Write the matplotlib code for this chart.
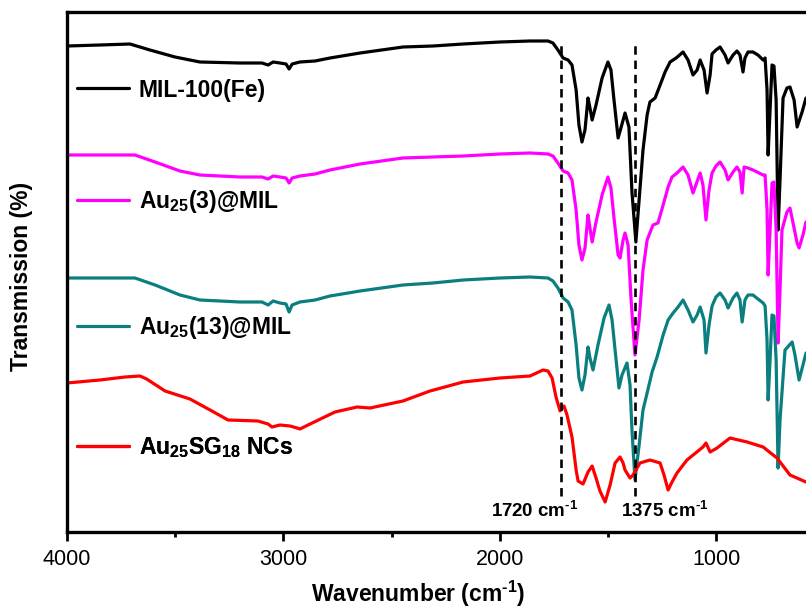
import matplotlib
matplotlib.use("Agg")
import matplotlib.pyplot as plt
from matplotlib.ticker import FixedLocator

plt.rcParams['font.family'] = ['Liberation Sans', 'DejaVu Sans']
plt.rcParams['mathtext.fontset'] = 'custom'
plt.rcParams['mathtext.bf'] = 'Liberation Sans:bold'
plt.rcParams['mathtext.rm'] = 'Liberation Sans:bold'
plt.rcParams['mathtext.default'] = 'bf'

# ---------------- data (wavenumber cm-1, transmission arb. units incl. offset) ----
mil_wn = [4000, 3848, 3709, 3617, 3501, 3386, 3201, 3099, 3071, 3048, 3016, 2988, 2974, 2960,
          2924, 2854, 2785, 2646, 2448, 2309, 2170, 2000, 1861, 1778, 1755, 1732, 1708, 1685,
          1667, 1648, 1635, 1621, 1607, 1593, 1584, 1574, 1556, 1528, 1501, 1487, 1473, 1454,
          1441, 1422, 1404, 1390, 1372, 1357, 1339, 1320, 1307, 1283, 1260, 1237, 1214, 1186,
          1154, 1131, 1108, 1089, 1075, 1057, 1043, 1029, 1020, 1002, 983, 960, 946, 923, 905,
          891, 877, 868, 854, 831, 808, 784, 775, 766, 761, 752, 743, 734, 724, 715, 706, 692,
          674, 660, 641, 627, 604, 586]
mil_t = [486, 487, 488, 482, 475, 470, 469, 469, 467, 470, 469, 468, 463, 468,
         470, 471, 474, 479, 485, 486, 488, 490, 491, 491, 489, 482, 474, 472,
         467, 442, 407, 390, 402, 434, 424, 412, 427, 454, 470, 462, 432, 394,
         404, 419, 405, 340, 290, 332, 382, 417, 430, 434, 447, 460, 470, 474,
         480, 472, 457, 462, 472, 462, 439, 457, 478, 482, 485, 477, 469, 477, 481,
         477, 460, 474, 480, 480, 477, 472, 474, 442, 377, 422, 467, 466, 432, 302, 352, 434,
         444, 445, 432, 405, 420, 434]

au3_wn = [4000, 3848, 3686, 3593, 3478, 3386, 3201, 3099, 3071, 3048, 3016, 2988, 2974, 2960,
          2924, 2854, 2785, 2646, 2448, 2309, 2170, 2000, 1861, 1778, 1755, 1732, 1708, 1685,
          1667, 1648, 1635, 1621, 1607, 1593, 1584, 1574, 1556, 1528, 1501, 1487, 1473, 1454,
          1445, 1431, 1422, 1408, 1394, 1376, 1357, 1339, 1320, 1293, 1270, 1246, 1223, 1205,
          1182, 1154, 1131, 1108, 1075, 1062, 1048, 1034, 1020, 1002, 983, 960, 946, 923,
          905, 891, 881, 872, 854, 831, 784, 775, 766, 761, 752, 743, 734, 724, 715, 706,
          697, 674, 660, 627, 618, 600, 586]
au3_t = [377, 377, 377, 370, 361, 357, 355, 355, 353, 356, 355, 354, 349, 354,
         356, 358, 362, 368, 374, 375, 376, 378, 379, 378, 376, 369, 361, 359,
         352, 322, 287, 272, 284, 317, 304, 290, 310, 337, 355, 344, 314, 277,
         274, 292, 299, 287, 232, 177, 212, 262, 292, 307, 309, 327, 345, 355,
         359, 365, 357, 339, 359, 347, 312, 342, 359, 366, 370, 362, 352, 360,
         365, 360, 339, 365, 364, 362, 357, 357, 322, 257, 302, 349, 350, 302, 189, 242,
         302, 320, 324, 289, 284, 297, 310]

au13_wn = [4000, 3848, 3686, 3593, 3478, 3386, 3201, 3099, 3071, 3048, 3016, 2988, 2974, 2960,
           2924, 2854, 2785, 2646, 2448, 2309, 2170, 2000, 1861, 1778, 1755, 1732, 1708, 1685,
           1667, 1648, 1635, 1621, 1607, 1593, 1584, 1570, 1547, 1519, 1496, 1482, 1468, 1450,
           1436, 1413, 1399, 1390, 1376, 1357, 1339, 1320, 1297, 1274, 1246, 1223, 1200, 1177,
           1154, 1131, 1108, 1089, 1075, 1057, 1048, 1034, 1020, 1002, 983, 960, 946, 923, 905,
           891, 881, 868, 854, 831, 808, 784, 775, 766, 761, 752, 743, 734, 724, 715, 706, 683,
           650, 637, 618, 600, 586]
au13_t = [254, 254, 254, 247, 237, 232, 230, 230, 227, 231, 229, 228, 220, 227,
          230, 232, 236, 241, 247, 249, 252, 254, 255, 254, 251, 244, 234, 230,
          222, 187, 154, 142, 157, 185, 174, 162, 187, 214, 227, 212, 182, 144,
          157, 169, 147, 102, 52, 87, 122, 139, 160, 175, 197, 212, 219, 225,
          232, 222, 210, 217, 225, 212, 179, 207, 226, 235, 239, 232, 224, 234, 239,
          232, 210, 232, 237, 237, 233, 229, 226, 192, 132, 172, 217, 216, 172, 64, 112, 182,
          190, 177, 152, 167, 179]

ncs_wn = [4000, 3848, 3732, 3663, 3632, 3547, 3432, 3339, 3256, 3118, 3071, 3053, 3016, 2970,
          2937, 2924, 2877, 2762, 2660, 2600, 2448, 2323, 2170, 2000, 1861, 1801, 1778, 1759,
          1741, 1722, 1713, 1704, 1690, 1667, 1648, 1639, 1616, 1593, 1574, 1556, 1538, 1514,
          1491, 1468, 1445, 1431, 1422, 1399, 1385, 1353, 1307, 1260, 1242, 1223, 1205, 1182,
          1136, 1062, 1048, 1029, 997, 937, 858, 784, 720, 660, 586]
ncs_t = [149, 152, 155, 156, 153, 141, 133, 122, 112, 111, 108, 105, 107, 106,
         104, 103, 108, 120, 125, 124, 131, 141, 150, 154, 156, 162, 161, 154,
         135, 121, 124, 126, 117, 95, 62, 51, 48, 60, 66, 54, 41, 30,
         47, 69, 75, 69, 62, 54, 57, 69, 72, 69, 57, 42, 50, 59,
         72, 85, 89, 80, 84, 94, 90, 85, 74, 57, 50]

series_labels = ['MIL-100(Fe)', 'Au$_{25}$(3)@MIL', 'Au$_{25}$(13)@MIL', 'Au$_{25}$SG$_{18}$ NCs']
series_colors = ['#000000', '#ff00ff', '#0b7f7f', '#ff0000']

peak_positions = [1720, 1375]
peak_labels = [r'1720 cm$^{\text{-}1}$', r'1375 cm$^{\text{-}1}$']

x_major = [4000, 3000, 2000, 1000]
x_minor = [3500, 2500, 1500]

# ---------------- figure ----------------
fig = plt.figure(figsize=(8.06, 6.08), dpi=100)
ax = fig.add_axes([67 / 806, 76 / 608, 739 / 806, 520 / 608])

data = [(mil_wn, mil_t), (au3_wn, au3_t), (au13_wn, au13_t), (ncs_wn, ncs_t)]
lines = []
for (wn, t), lab, col in zip(data, series_labels, series_colors):
    ln, = ax.plot(wn, t, color=col, lw=2.3, label=lab,
                  solid_joinstyle='round', solid_capstyle='round')
    lines.append(ln)

ax.vlines(peak_positions, 36, 492, colors='black', linestyles=(0, (3.2, 2.2)), lw=1.9)
label_x = [1842, 1240]
for xp, txt in zip(label_x, peak_labels):
    ax.text(xp, 21, txt, ha='center', va='center', fontsize=13.5, fontweight='bold')

ax.set_xlim(4000, 586)
ax.set_ylim(0, 520)

# legends (one per series, stacked at the left)
leg_y = [0.85, 0.635, 0.394, 0.163]
for ln, yy in zip(lines, leg_y):
    lg = ax.legend(handles=[ln], loc='center left', bbox_to_anchor=(0.0135, yy),
                   frameon=False, borderpad=0, borderaxespad=0, handlelength=2.25,
                   handletextpad=0.45, prop={'size': 16.5, 'weight': 'bold'})
    ax.add_artist(lg)

for side in ['left', 'top', 'bottom']:
    ax.spines[side].set_linewidth(2.4)
ax.spines['right'].set_visible(False)

ax.xaxis.set_major_locator(FixedLocator(x_major))
ax.xaxis.set_minor_locator(FixedLocator(x_minor))
ax.tick_params(axis='x', which='major', direction='out', length=6.5, width=2.0,
               labelsize=15.5, pad=6)
ax.tick_params(axis='x', which='minor', direction='out', length=3.5, width=2.0)
ax.tick_params(axis='y', left=False, labelleft=False)
ax.tick_params(axis='x', top=False)

fig.text(418 / 806, 1 - 594 / 608, r'Wavenumber (cm$^{\text{-}1}$)', ha='center', va='center',
         fontsize=16.5, fontweight='bold')
fig.text(22 / 806, 1 - 276 / 608, 'Transmission (%)', ha='center', va='center',
         rotation=90, fontsize=16.5, fontweight='bold')

fig.savefig('out.png', dpi=100)
